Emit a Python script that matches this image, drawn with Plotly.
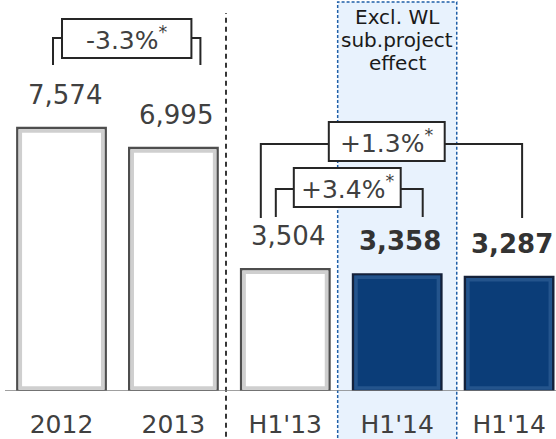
import plotly.graph_objects as go

# ---- data ----
categories = ["2012", "2013", "H1'13", "H1'14", "H1'14"]
values = [7574, 6995, 3504, 3358, 3287]
value_labels = ["7,574", "6,995", "3,504", "3,358", "3,287"]
bold_flags = [False, False, False, True, True]
highlight = [False, False, False, True, True]
changes = ["-3.3%", "+1.3%", "+3.4%"]
note_lines = ["Excl. WL", "sub.project", "effect"]

FONT = "DejaVu Sans"
xpos = list(range(len(categories)))
YMAX = 11258
UPP = YMAX / 391.0  # data units per pixel (vertical)
XPP = 1 / 111.9     # data units per pixel (horizontal)

bar_w = 0.79
fill = ["#0b3d78" if h else "#ffffff" for h in highlight]
edge = ["#14213a" if h else "#4e4e4e" for h in highlight]
inner_edge = ["#24548c" if h else "#cfcfcf" for h in highlight]
inset = 3 * UPP

fig = go.Figure()
fig.add_trace(go.Bar(x=xpos, y=values, width=bar_w,
                     marker=dict(color=fill, line=dict(color=edge, width=2.4)),
                     hoverinfo="skip", showlegend=False))
fig.add_trace(go.Bar(x=xpos, y=[v - 2 * inset for v in values], base=[inset] * len(values),
                     width=bar_w - 6 * XPP,
                     marker=dict(color="rgba(0,0,0,0)", line=dict(color=inner_edge, width=3.5)),
                     hoverinfo="skip", showlegend=False))

shapes = []
annotations = []

# highlighted region around the adjusted H1'14 bar
shapes.append(dict(type="rect", xref="x", yref="paper", x0=3 - 0.532, x1=3 + 0.532,
                   y0=-0.14, y1=0.995, fillcolor="#e8f2fd",
                   line=dict(color="#1f5fa8", width=1.5, dash="3px,2px"), layer="below"))
# separator
shapes.append(dict(type="line", xref="x", yref="paper", x0=1.47, x1=1.47, y0=-0.14, y1=0.967,
                   line=dict(color="#222222", width=1.8, dash="5px,4px")))
# baseline
shapes.append(dict(type="line", xref="paper", yref="y", x0=0, x1=1, y0=0, y1=0,
                   line=dict(color="#808080", width=1.3)))

for i, (v, t, b) in enumerate(zip(values, value_labels, bold_flags)):
    annotations.append(dict(x=i, y=v, xref="x", yref="y", text=f"<b>{t}</b>" if b else t,
                            showarrow=False, yanchor="middle", yshift=33, xshift=3,
                            font=dict(family=FONT, size=26, color="#333333" if b else "#404040")))

for k, line in enumerate(note_lines):
    annotations.append(dict(x=3, y=(391 - (17 + 23 * k)) / 391, xref="x", yref="paper", text=line,
                            showarrow=False, yanchor="middle",
                            font=dict(family=FONT, size=20, color="#1a1a1a")))

# brackets: (label, left leg x, right leg x, box x0, box x1, horiz y px, leg bottom px, box top px, box bottom px)
brackets = [
    (changes[0], 0 - 8.5 * XPP, 1 + 27 * XPP, 0 + 0.5 * XPP, 1 + 18 * XPP, 38, 65, 19, 58),
    (changes[1], 2 - 24.5 * XPP, 4 + 13 * XPP, 2 + 43.5 * XPP, 3 + 47.5 * XPP, 144, 218, 122, 161),
    (changes[2], 2 - 9.5 * XPP, 3 + 25.5 * XPP, 2 + 8.5 * XPP, 3 + 3.5 * XPP, 189, 217, 168, 207),
]
for lab, xl, xr, bx0, bx1, hy, ly, bt, bb in brackets:
    Y = lambda p: (391 - p) * UPP
    shapes.append(dict(type="path", xref="x", yref="y",
                       path=f"M {xl},{Y(ly)} L {xl},{Y(hy)} L {bx0},{Y(hy)}",
                       line=dict(color="#262626", width=2)))
    shapes.append(dict(type="path", xref="x", yref="y",
                       path=f"M {bx1},{Y(hy)} L {xr},{Y(hy)} L {xr},{Y(ly)}",
                       line=dict(color="#262626", width=2)))
    shapes.append(dict(type="rect", xref="x", yref="y", x0=bx0, x1=bx1, y0=Y(bb), y1=Y(bt),
                       fillcolor="#ffffff", line=dict(color="#262626", width=2)))
    annotations.append(dict(x=(bx0 + bx1) / 2, y=(Y(bb) + Y(bt)) / 2, xref="x", yref="y",
                            text=f"{lab}<sup>*</sup>", showarrow=False, yanchor="middle",
                            font=dict(family=FONT, size=25, color="#404040")))

fig.update_layout(
    width=556, height=439, margin=dict(l=5, r=0, t=0, b=48),
    paper_bgcolor="#ffffff", plot_bgcolor="rgba(0,0,0,0)",
    barmode="overlay", showlegend=False,
    shapes=shapes, annotations=annotations,
    xaxis=dict(range=[-0.505, 4.419], tickmode="array", tickvals=xpos, ticktext=categories,
               showgrid=False, zeroline=False, showline=False, ticks="",
               tickfont=dict(family=FONT, size=25, color="#404040"), ticklabelstandoff=16,
               fixedrange=True),
    yaxis=dict(range=[0, YMAX], visible=False, fixedrange=True),
)
fig.write_html("out.html", config={"displayModeBar": False},
               post_script="document.body.style.margin='0';document.body.style.overflow='hidden';")
